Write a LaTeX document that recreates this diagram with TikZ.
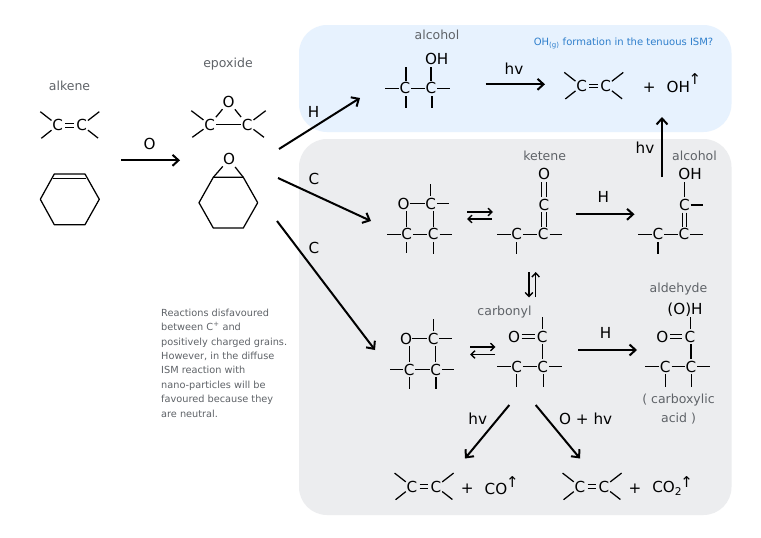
\documentclass[tikz,border=0pt]{standalone}
\usepackage{fontspec}
\setmainfont{DejaVu Sans}
\usetikzlibrary{arrows.meta,calc}
\definecolor{bluebox}{HTML}{E7F2FE}
\definecolor{graybox}{HTML}{ECEDEF}
\definecolor{labelgray}{HTML}{5F6368}
\definecolor{noteblue}{HTML}{2F7FCC}
\newcounter{stubn}
\tikzset{
  panel/.style={rounded corners=28pt,draw=none},
  atom/.style={inner sep=0pt,minimum width=12pt,minimum height=15pt,font=\fontsize{15.2}{17}\selectfont,text=black},
  bond/.style={line width=1.25pt,black},
  dbl/.style={line width=1.15pt,black},
  rxn/.style={line width=2pt,black,-{Straight Barb[length=6pt,width=11pt,line width=2pt]}},
  eqarrow/.style={line width=1.4pt,black,-{Straight Barb[length=4pt,width=7.5pt,line width=1.4pt]}},
  rlabel/.style={inner sep=0pt,font=\fontsize{15.2}{17}\selectfont,text=black},
  cname/.style={inner sep=0pt,font=\fontsize{12.5}{14}\selectfont,text=labelgray},
  notetext/.style={inner sep=0pt,font=\fontsize{9.75}{14.45}\selectfont,text=labelgray,align=left,anchor=north west},
  uptick/.style={inner sep=0pt,font=\fontsize{15}{17}\selectfont,text=black},
}
\newcommand{\Atm}[3]{\node[atom] (#1) at (#2) {#3};}
\newcommand{\Bnd}[2]{\draw[bond] (#1) -- (#2);}
\newcommand{\BndV}[2]{\draw[bond] (#1.south -| #2) -- (#2);}
\newcommand{\Stb}[2]{\stepcounter{stubn}\coordinate (stub\arabic{stubn}) at ($(#1)+(#2)$);\draw[bond] (#1) -- (stub\arabic{stubn});}
% vertical stubs that sit beside the atom centre: node, x offset, end y offset
\newcommand{\StbD}[3]{\stepcounter{stubn}\coordinate (stub\arabic{stubn}) at ($(#1)+(#2,#3)$);\draw[bond] (#1.south -| stub\arabic{stubn}) -- (stub\arabic{stubn});}
\newcommand{\StbU}[3]{\stepcounter{stubn}\coordinate (stub\arabic{stubn}) at ($(#1)+(#2,#3)$);\draw[bond] (#1.north -| stub\arabic{stubn}) -- (stub\arabic{stubn});}
\newcommand{\DblH}[2]{\draw[dbl,shorten <=1.5pt,shorten >=1.5pt] ([yshift=1.8pt]#1.east) -- ([yshift=1.8pt]#2.west);\draw[dbl,shorten <=1.5pt,shorten >=1.5pt] ([yshift=-1.8pt]#1.east) -- ([yshift=-1.8pt]#2.west);}
\newcommand{\DblV}[2]{\draw[dbl] ([xshift=-2.4pt]#1.south) -- ([xshift=-2.4pt]#1.south |- #2.north);\draw[dbl] ([xshift=2.4pt]#1.south) -- ([xshift=2.4pt]#1.south |- #2.north);}
% alkene unit: name, x of left C, y
\newcommand{\Alkene}[3]{%
  \Atm{#1a}{#2,#3}{C}\Atm{#1b}{#2+24,#3}{C}\DblH{#1a}{#1b}%
  \Stb{#1a}{-17.4,-13.6}\Stb{#1a}{-16.4,13}\Stb{#1b}{17.6,-13.6}\Stb{#1b}{16.4,12.8}}
% four-membered ring: name, x shift, y shift
\newcommand{\Ring}[3]{%
  \Atm{#1o}{403.5+#2,203.5+#3}{O}\Atm{#1p}{430.7+#2,203.5+#3}{C}%
  \Atm{#1q}{406.7+#2,234.3+#3}{C}\Atm{#1r}{433.3+#2,234.3+#3}{C}%
  \Bnd{#1o}{#1p}\BndV{#1p}{#1r}\Bnd{#1q}{#1r}%
  \BndV{#1o}{#1q}%
  \StbU{#1p}{0}{-19.5}\Stb{#1p}{18.6,0}\Stb{#1q}{-19.4,0}\StbD{#1q}{0}{19}\Stb{#1r}{18.4,0}\StbD{#1r}{0.3}{19.7}}
\begin{document}
\begin{tikzpicture}[x=1pt,y=-1pt]
\useasboundingbox (0,0) rectangle (761,538);
\fill[white] (0,0) rectangle (761,538);
\fill[panel,bluebox] (299,25) rectangle (731.5,132);
\fill[panel,graybox] (299,139) rectangle (731.5,515);

% names
\node[cname] (lalkene) at (69.5,85.5) {alkene};
\node[cname] (lepoxide) at (228,64.5) {epoxide};
\node[cname] (lalc1) at (437,34.5) {alcohol};
\node[cname] (lketene) at (544.7,156) {ketene};
\node[cname] (lalc2) at (694.5,156) {alcohol};
\node[cname] (lcarb) at (504.5,312.5) {carbonyl};
\node[cname] (lald) at (678.5,289) {aldehyde};
\node[cname] (lacid1) at (678.5,400) {( carboxylic};
\node[cname] (lacid2) at (678.5,419) {acid )};
\node[inner sep=0pt,font=\fontsize{10}{12}\selectfont,text=noteblue] (lq) at (623.5,43) {OH\textsubscript{(g)} formation in the tenuous ISM?};
\node[notetext] (lnote) at (161,308.5) {Reactions disfavoured\\between C\textsuperscript{+} and\\positively charged grains.\\However, in the diffuse\\ISM reaction with\\nano-particles will be\\favoured because they\\are neutral.};

% alkene
\Alkene{ak}{57.7}{125.3}
% cyclohexene
\coordinate (h1) at (54.3,174);\coordinate (h2) at (85,174);\coordinate (h3) at (99.3,199.3);
\coordinate (h4) at (85,224.7);\coordinate (h5) at (54.3,224.7);\coordinate (h6) at (40.3,199.3);
\draw[bond,line join=round] (h1) -- (h2) -- (h3) -- (h4) -- (h5) -- (h6) -- cycle;
\coordinate (hi1) at (53,178.2);\coordinate (hi2) at (86.2,178.2);
\draw[bond] (hi1) -- (hi2);

% epoxide
\Atm{eo}{228.7,101.7}{O}\Atm{ea}{209.7,124.7}{C}\Atm{eb}{247.3,124.7}{C}
\Bnd{ea}{eb}\Bnd{ea}{eo}\Bnd{eb}{eo}
\Stb{ea}{-18.4,-14}\Stb{ea}{-17.4,12.6}\Stb{eb}{18.4,-14}\Stb{eb}{16.7,12.6}
% cyclic epoxide
\Atm{co}{229,159.3}{O}
\coordinate (c1) at (213.3,177.3);\coordinate (c2) at (243.3,177.3);\coordinate (c3) at (257.7,202.7);
\coordinate (c4) at (243.3,228);\coordinate (c5) at (213.3,228);\coordinate (c6) at (199,202.7);
\draw[bond,line join=round] (c1) -- (c2) -- (c3) -- (c4) -- (c5) -- (c6) -- cycle;
\Bnd{co}{c1}\Bnd{co}{c2}

% alcohol (blue)
\Atm{a1}{405,88.3}{C}\Atm{a2}{431,88.3}{C}
\node[atom,minimum width=24pt] (a2oh) at (436.7,58.7) {OH};
\Bnd{a1}{a2}
\Stb{a1}{-19.7,0}\Stb{a2}{18.7,0}
\StbU{a1}{1}{-21.6}\StbD{a1}{1}{20}\StbU{a2}{0}{-21.6}\StbD{a2}{1}{20}
\Alkene{bk}{581.7}{86}
\node[rlabel] (bplus) at (649.3,87.7) {+};
\node[rlabel] (boh) at (678.3,87) {OH};
\node[uptick] (bup) at (695,79) {↑};

% four ring 1, ketene, alcohol
\Ring{ra}{0}{0}
\Atm{kO}{544,174.3}{O}\Atm{kC}{544,204.5}{C}\Atm{kr}{543.3,234.3}{C}\Atm{kl}{516.7,234.3}{C}
\DblV{kO}{kC}\DblV{kC}{kr}\Bnd{kl}{kr}
\Stb{kl}{-19.4,0}\StbD{kl}{0}{20}\Stb{kr}{18.7,0}
\node[atom,minimum width=24pt] (g2oh) at (690,174.3) {OH};
\Atm{gm}{684.5,205}{C}\Atm{gr}{684,234.3}{C}\Atm{gl}{658,234.3}{C}
\BndV{g2oh}{gm}
\DblV{gm}{gr}\Bnd{gl}{gr}
\Stb{gm}{18.2,0}\Stb{gl}{-19.7,0}\StbD{gl}{0}{20}\Stb{gr}{18.7,0}

% four ring 2, carbonyl, aldehyde
\Ring{rb}{2.5}{135.2}
\Atm{cC}{542.3,336.7}{C}\Atm{cO}{514,336.7}{O}\Atm{cr}{542.7,366.7}{C}\Atm{cl}{516.7,366.7}{C}
\DblH{cO}{cC}\BndV{cC}{cr}\Bnd{cl}{cr}
\StbU{cC}{0}{-20}\Stb{cl}{-19.4,0}\StbD{cl}{0}{20.6}\Stb{cr}{19.3,0}\StbD{cr}{0.6}{20.6}
\node[atom,minimum width=38pt] (dh) at (685,309.3) {(O)H};
\Atm{dC}{690,336.7}{C}\Atm{dO}{662.3,336.7}{O}\Atm{dr}{691,366.7}{C}\Atm{dl}{665.3,366.7}{C}
\DblH{dO}{dC}\BndV{dC}{dr}\Bnd{dl}{dr}
\StbU{dC}{0.7}{-20}
\Stb{dl}{-20,0}\StbD{dl}{0}{20.6}\Stb{dr}{19,0}\StbD{dr}{0.6}{20.6}

% bottom products
\Alkene{pk}{412}{486.7}
\node[rlabel] (pplus) at (467.3,489) {+};
\node[rlabel] (pco) at (496,488.7) {CO};
\node[uptick] (pup) at (512.3,482) {↑};
\Alkene{qk}{580}{486.7}
\node[rlabel] (qplus) at (635,489) {+};
\node[rlabel] (qco) at (667.3,488.7) {CO\textsubscript{2}};
\node[uptick] (qup) at (686.7,482) {↑};

% reaction arrows with named ends
\coordinate (s1) at (121,160.3);\coordinate (e1) at (180,160.3);\draw[rxn] (s1) -- (e1);
\node[rlabel] (t1) at (149.7,144.3) {O};
\coordinate (s2) at (279,149);\coordinate (e2) at (360,98);\draw[rxn] (s2) -- (e2);
\node[rlabel] (t2) at (313.5,112) {H};
\coordinate (s3) at (278,178);\coordinate (e3) at (371,221);\draw[rxn] (s3) -- (e3);
\node[rlabel] (t3) at (314,179) {C};
\coordinate (s4) at (277,221);\coordinate (e4) at (375,350);\draw[rxn] (s4) -- (e4);
\node[rlabel] (t4) at (314,248) {C};
\coordinate (s5) at (485.7,84.3);\coordinate (e5) at (545,84.3);\draw[rxn] (s5) -- (e5);
\node[rlabel] (t5) at (514,68.3) {hv};
\coordinate (s6) at (662,177);\coordinate (e6) at (662,117);\draw[rxn] (s6) -- (e6);
\node[rlabel] (t6) at (645,148) {hv};
\coordinate (s7) at (575.7,214.3);\coordinate (e7) at (634.5,214.3);\draw[rxn] (s7) -- (e7);
\node[rlabel] (t7) at (603.3,197.3) {H};
\coordinate (s8) at (578,350);\coordinate (e8) at (637,350);\draw[rxn] (s8) -- (e8);
\node[rlabel] (t8) at (605.7,333.3) {H};
\coordinate (s9) at (509.3,405);\coordinate (e9) at (465,458.5);\draw[rxn] (s9) -- (e9);
\node[rlabel] (t9) at (477.7,419) {hv};
\coordinate (s10) at (535.7,405);\coordinate (e10) at (580,458.5);\draw[rxn] (s10) -- (e10);
\node[rlabel] (t10) at (585.7,419) {O + hv};

% equilibrium arrows
\coordinate (q1a) at (467,212);\coordinate (q1b) at (493,212);\draw[eqarrow] (q1a) -- (q1b);
\coordinate (q2a) at (492,219);\coordinate (q2b) at (467,219);\draw[eqarrow] (q2a) -- (q2b);
\coordinate (q3a) at (470,347);\coordinate (q3b) at (495.5,347);\draw[eqarrow] (q3a) -- (q3b);
\coordinate (q4a) at (495,354.5);\coordinate (q4b) at (470,354.5);\draw[eqarrow] (q4a) -- (q4b);
\coordinate (q5a) at (529,272);\coordinate (q5b) at (529,297.5);\draw[eqarrow] (q5a) -- (q5b);
\coordinate (q6a) at (535.7,297);\coordinate (q6b) at (535.7,272);\draw[eqarrow] (q6a) -- (q6b);
\end{tikzpicture}
\end{document}
